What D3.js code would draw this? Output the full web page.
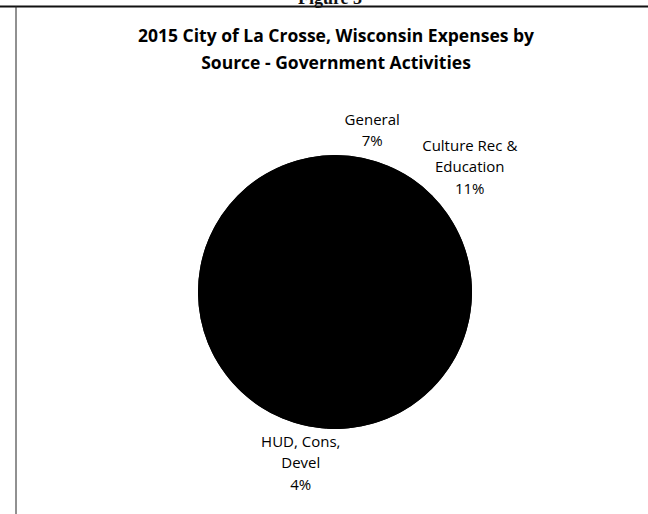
<!DOCTYPE html>
<html>
<head>
<meta charset="utf-8">
<script src="https://cdn.jsdelivr.net/npm/d3@7"></script>
<style>
  body { margin: 0; background: #fff; }
  svg { display: block; }
</style>
</head>
<body>
<div id="chart"></div>
<script>
// data (slices in clockwise order from 12 o'clock)
// the two big slices carry no readable label in the scan
const categories = ["General", "Culture Rec & Education", "", "HUD, Cons, Devel", ""];
const shares = [7, 11, 33, 4, 45];
const labelLines = [["General", "7%"], ["Culture Rec &", "Education", "11%"], [], ["HUD, Cons,", "Devel", "4%"], []];
const titleLines = ["2015 City of La Crosse, Wisconsin Expenses by", "Source - Government Activities"];

const width = 648, height = 514;
const cx = 335, cy = 292, radius = 137;
const lineH = 21.5;
const fontSize = 15;

const data = categories.map((c, i) => ({ category: c, value: shares[i], lines: labelLines[i] }));

const svg = d3.select("#chart").append("svg")
    .attr("width", width)
    .attr("height", height);

// page frame and the caption above it, clipped by the scan
svg.append("text")
    .attr("x", 330).attr("y", 4)
    .attr("text-anchor", "middle")
    .attr("font-family", "Liberation Serif")
    .attr("font-weight", 700)
    .attr("font-size", 18)
    .attr("fill", "#111")
    .text("Figure 3");
svg.append("line").attr("x1", 0).attr("x2", width).attr("y1", 6.5).attr("y2", 6.5)
    .attr("stroke", "#111").attr("stroke-width", 2);
svg.append("line").attr("x1", 16).attr("x2", 16).attr("y1", 6).attr("y2", height)
    .attr("stroke", "#222").attr("stroke-width", 1);

// title
svg.append("g").selectAll("text")
    .data(titleLines)
    .join("text")
    .attr("x", 336)
    .attr("y", (d, i) => 42 + i * 27)
    .attr("text-anchor", "middle")
    .attr("font-family", "Open Sans")
    .attr("font-weight", 700)
    .attr("font-size", 17.5)
    .attr("fill", "#000")
    .text(d => d);

const pie = d3.pie().value(d => d.value).sort(null);
const arc = d3.arc().innerRadius(0).outerRadius(radius);
const arcs = pie(data);

const g = svg.append("g").attr("transform", `translate(${cx},${cy})`);
// solid disc under the slices so the seams don't show
g.append("circle").attr("r", radius).attr("fill", "#000");
g.selectAll("path")
    .data(arcs)
    .join("path")
    .attr("d", arc)
    .attr("fill", "#000");

// outside-end labels: text block pushed just beyond the arc edge
const blocks = g.selectAll("g.label")
    .data(arcs.filter(d => d.data.lines.length))
    .join("g")
    .attr("class", "label");

blocks.selectAll("text")
    .data(d => d.data.lines)
    .join("text")
    .attr("x", 0)
    .attr("y", (d, i) => i * lineH + 15)
    .attr("text-anchor", "middle")
    .attr("font-family", "Open Sans")
    .attr("font-size", fontSize)
    .attr("fill", "#000")
    .text(d => d);

blocks.attr("transform", function(d) {
    const a = (d.startAngle + d.endAngle) / 2;
    const r = radius + 6;
    const w = d3.max(d3.select(this).selectAll("text").nodes(), n => n.getComputedTextLength());
    const h = d.data.lines.length * lineH;
    const x = Math.sin(a) * (r + w / 2);
    const y = -Math.cos(a) * (r + h / 2);
    return `translate(${x},${y - h / 2})`;
});
</script>
</body>
</html>
